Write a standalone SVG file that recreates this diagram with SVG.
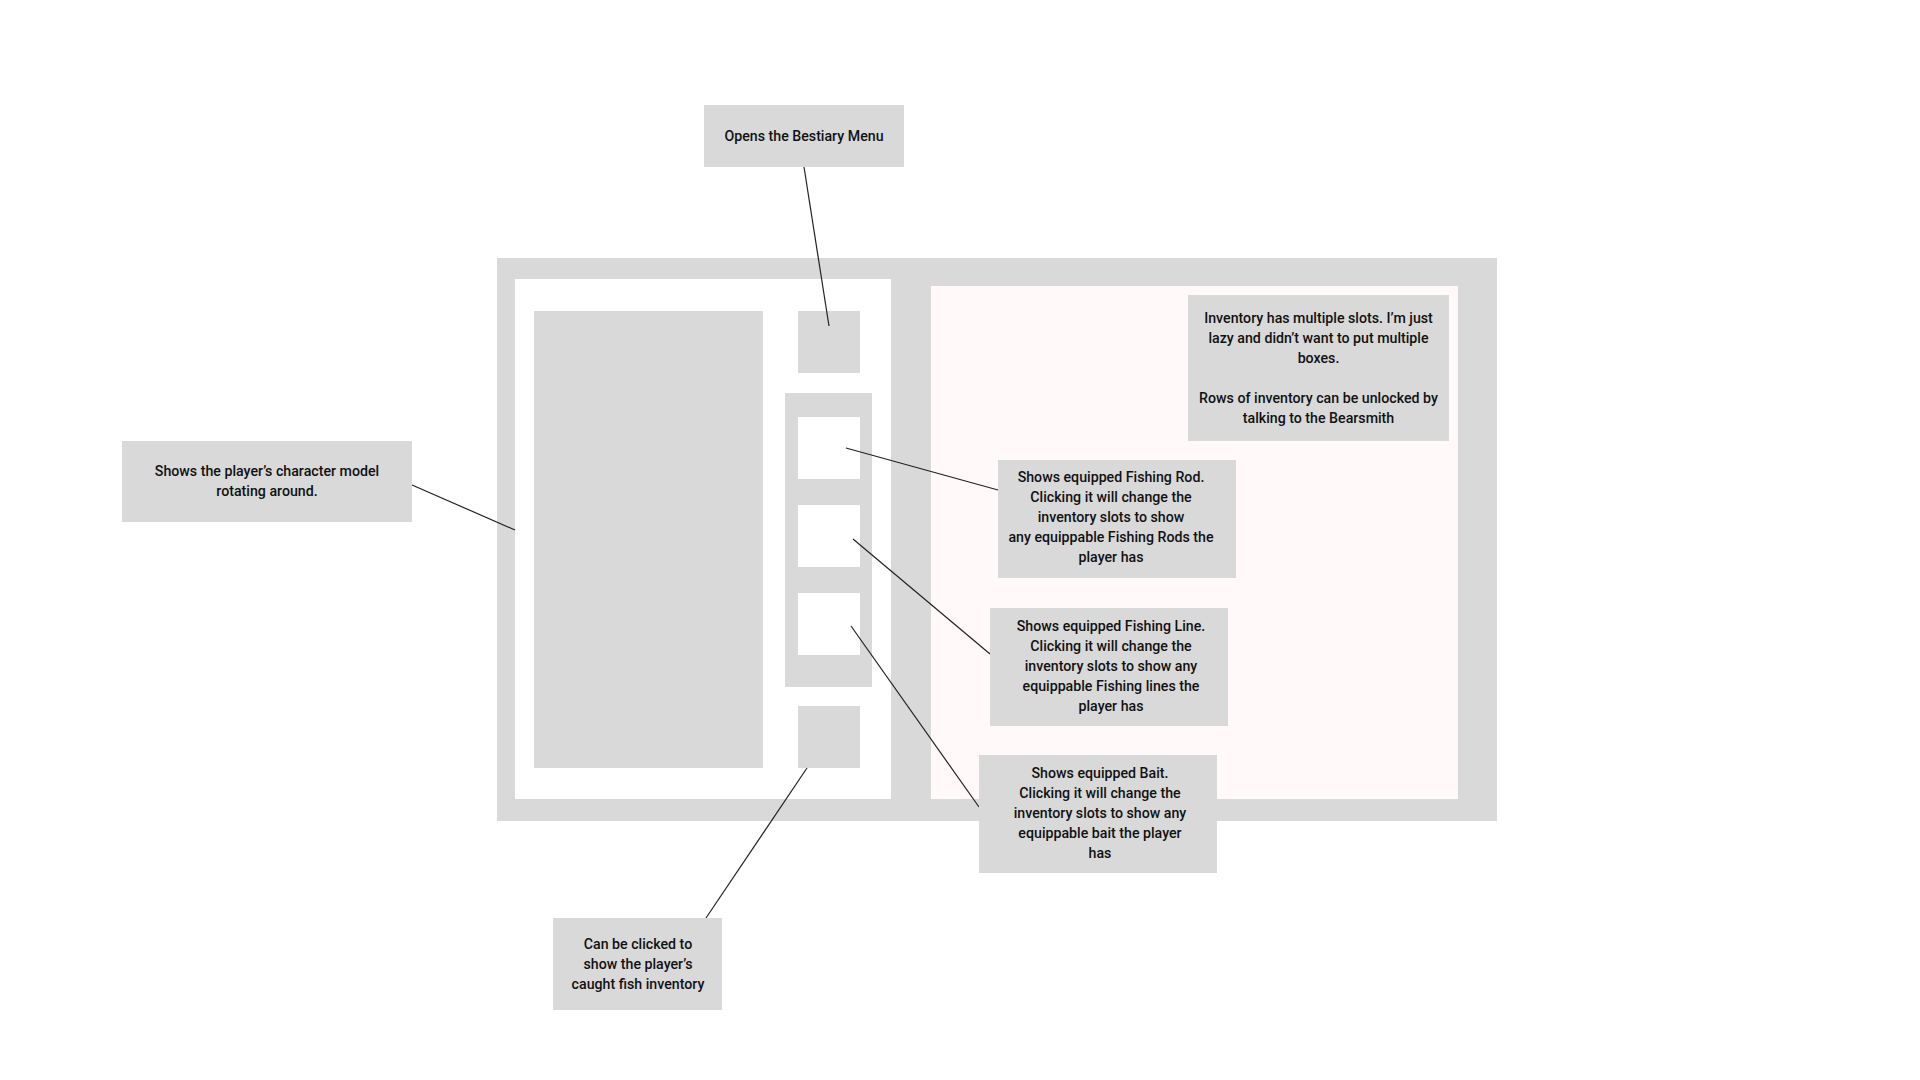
<svg xmlns="http://www.w3.org/2000/svg" width="1920" height="1080" viewBox="0 0 1920 1080">
<style>
.g{fill:#d9d9d9}
.w{fill:#ffffff}
.p{fill:#fffaf9}
.t{font-family:Roboto,"Liberation Sans",sans-serif;font-size:14.2px;font-weight:500;fill:#111;text-anchor:middle}
.c{stroke:#222;stroke-width:1.2;fill:none}
</style>
<rect width="1920" height="1080" fill="#ffffff"/>
<g id="ui-frame">
<rect class="g" x="497" y="258" width="1000" height="563"/>
<rect class="w" x="515" y="279" width="376" height="520"/>
<rect class="p" x="931" y="286" width="527" height="513"/>
</g>
<g id="character-model"><rect class="g" x="534" y="311" width="229" height="457"/></g>
<g id="bestiary-button"><rect class="g" x="798" y="311" width="62" height="62"/></g>
<g id="equipment-column">
<rect class="g" x="785" y="393" width="87" height="294"/>
<rect class="w" x="798" y="417" width="62" height="62"/>
<rect class="w" x="798" y="505" width="62" height="62"/>
<rect class="w" x="798" y="593" width="62" height="62"/>
</g>
<g id="fish-inventory-button"><rect class="g" x="798" y="706" width="62" height="62"/></g>
<g id="connectors">
<line class="c" x1="804" y1="167" x2="829" y2="326"/>
<line class="c" x1="412" y1="485" x2="515" y2="530"/>
<line class="c" x1="846" y1="448" x2="998" y2="490"/>
<line class="c" x1="853" y1="539" x2="990" y2="654"/>
<line class="c" x1="851" y1="626" x2="979" y2="807"/>
<line class="c" x1="807" y1="768" x2="706" y2="918"/>
</g>
<g id="note-bestiary">
<rect class="g" x="704" y="105" width="200" height="62"/>
<text class="t" x="804" y="140.5">Opens the Bestiary Menu</text>
</g>
<g id="note-character">
<rect class="g" x="122" y="441" width="290" height="81"/>
<text class="t" x="267" y="475.5">Shows the player’s character model</text>
<text class="t" x="267" y="495.5">rotating around.</text>
</g>
<g id="note-inventory">
<rect class="g" x="1188" y="295" width="261" height="146"/>
<text class="t" x="1318.5" y="322.5">Inventory has multiple slots. I’m just</text>
<text class="t" x="1318.5" y="342.5">lazy and didn’t want to put multiple</text>
<text class="t" x="1318.5" y="362.5">boxes.</text>
<text class="t" x="1318.5" y="402.5">Rows of inventory can be unlocked by</text>
<text class="t" x="1318.5" y="422.5">talking to the Bearsmith</text>
</g>
<g id="note-rod">
<rect class="g" x="998" y="460" width="238" height="118"/>
<text class="t" x="1111" y="481.5">Shows equipped Fishing Rod.</text>
<text class="t" x="1111" y="501.5">Clicking it will change the</text>
<text class="t" x="1111" y="521.5">inventory slots to show</text>
<text class="t" x="1111" y="541.5">any equippable Fishing Rods the</text>
<text class="t" x="1111" y="561.5">player has</text>
</g>
<g id="note-line">
<rect class="g" x="990" y="608" width="238" height="118"/>
<text class="t" x="1111" y="630.5">Shows equipped Fishing Line.</text>
<text class="t" x="1111" y="650.5">Clicking it will change the</text>
<text class="t" x="1111" y="670.5">inventory slots to show any</text>
<text class="t" x="1111" y="690.5">equippable Fishing lines the</text>
<text class="t" x="1111" y="710.5">player has</text>
</g>
<g id="note-bait">
<rect class="g" x="979" y="755" width="238" height="118"/>
<text class="t" x="1100" y="777.5">Shows equipped Bait.</text>
<text class="t" x="1100" y="797.5">Clicking it will change the</text>
<text class="t" x="1100" y="817.5">inventory slots to show any</text>
<text class="t" x="1100" y="837.5">equippable bait the player</text>
<text class="t" x="1100" y="857.5">has</text>
</g>
<g id="note-fish">
<rect class="g" x="553" y="918" width="169" height="92"/>
<text class="t" x="638" y="948.5">Can be clicked to</text>
<text class="t" x="638" y="968.5">show the player’s</text>
<text class="t" x="638" y="988.5">caught fish inventory</text>
</g>
</svg>
